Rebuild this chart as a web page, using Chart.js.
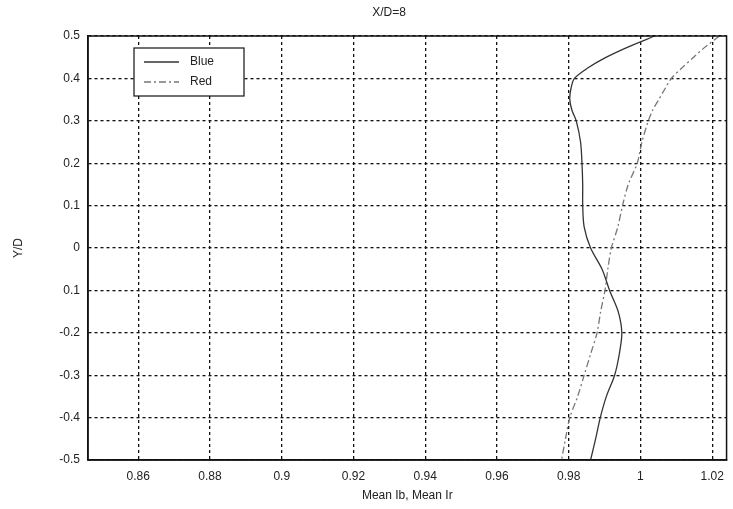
<!DOCTYPE html>
<html>
<head>
<meta charset="utf-8">
<script src="https://cdn.jsdelivr.net/npm/chart.js@4/dist/chart.umd.min.js"></script>
<style>
    html, body { margin: 0; padding: 0; background: #fff; }
    #wrap { width: 733px; height: 509px; }
</style>
</head>
<body>
<div id="wrap"><canvas id="myLineChart" width="733" height="509"></canvas></div>
<script>
// profile positions (Y/D), shared by both series
var yPositions = [0.5, 0.475, 0.45, 0.425, 0.4, 0.375, 0.35, 0.325, 0.3, 0.25, 0.2, 0.15, 0.1,
    0.05, 0, -0.05, -0.1, -0.15, -0.2, -0.25, -0.3, -0.35, -0.4, -0.45, -0.5];
var blueValues = [1.004, 0.9968, 0.9905, 0.9854, 0.9816, 0.9806, 0.9803, 0.9809, 0.9821, 0.9833, 0.9837,
    0.9839, 0.9839, 0.9843, 0.9861, 0.9893, 0.9914, 0.9938, 0.9948, 0.9941, 0.9928, 0.9905, 0.9888, 0.9875, 0.9861];
var redValues = [1.022, 1.0182, 1.0148, 1.0116, 1.0086, 1.0068, 1.0051, 1.0034, 1.0022, 1.0004, 0.9991,
    0.9966, 0.995, 0.9937, 0.9919, 0.9909, 0.9901, 0.9889, 0.9879, 0.9861, 0.9843, 0.9825, 0.9803, 0.9791, 0.978];

var xTickValues = [0.86, 0.88, 0.9, 0.92, 0.94, 0.96, 0.98, 1, 1.02];
var xTickLabels = ['0.86', '0.88', '0.9', '0.92', '0.94', '0.96', '0.98', '1', '1.02'];
var yTickValues = [0.5, 0.4, 0.3, 0.2, 0.1, 0, -0.1, -0.2, -0.3, -0.4, -0.5];
var yTickLabels = ['0.5', '0.4', '0.3', '0.2', '0.1', '0', '0.1', '-0.2', '-0.3', '-0.4', '-0.5'];

var chartTitle = 'X/D=8';
var seriesLabels = ['Blue', 'Red'];

var fontFamily = '"Liberation Sans", Arial, sans-serif';
var textColor = '#222222';

function toPoints(values) {
    return values.map(function(v, i) {
        return { x: v, y: yPositions[i] };
    });
}

function lookupLabel(values, labels, value) {
    for (var i = 0; i < values.length; i++) {
        if (Math.abs(values[i] - value) < 1e-9) {
            return labels[i];
        }
    }
    return '';
}

// frame round the plot, title and legend box
var framePlugin = {
    id: 'frame',
    afterDraw: function(chart) {
        var ctx = chart.ctx;
        var a = chart.chartArea;
        ctx.save();
        ctx.strokeStyle = '#111';
        ctx.lineWidth = 1.5;
        ctx.setLineDash([]);
        ctx.strokeRect(a.left, a.top, a.right - a.left, a.bottom - a.top);

        ctx.fillStyle = textColor;
        ctx.font = '12px ' + fontFamily;
        ctx.textAlign = 'center';
        ctx.textBaseline = 'middle';
        ctx.fillText(chartTitle, 389, 13);

        // legend
        var lx = 134, ly = 48, lw = 110, lh = 48;
        ctx.fillStyle = '#fff';
        ctx.fillRect(lx, ly, lw, lh);
        ctx.lineWidth = 1.2;
        ctx.strokeRect(lx, ly, lw, lh);
        chart.data.datasets.forEach(function(ds, i) {
            var y = ly + 14 + i * 20;
            ctx.strokeStyle = ds.borderColor;
            ctx.lineWidth = ds.borderWidth;
            ctx.setLineDash(ds.borderDash || []);
            ctx.beginPath();
            ctx.moveTo(lx + 10, y);
            ctx.lineTo(lx + 45, y);
            ctx.stroke();
            ctx.setLineDash([]);
            ctx.fillStyle = textColor;
            ctx.textAlign = 'left';
            ctx.fillText(ds.label, lx + 56, y);
        });
        ctx.restore();
    }
};

var gridOptions = {
    color: '#111',
    lineWidth: 1.3,
    drawTicks: false
};

var lineChartData = {
    datasets: [
        {
            label: seriesLabels[0],
            data: toPoints(blueValues),
            showLine: true,
            fill: false,
            borderColor: '#333333',
            borderWidth: 1.3,
            pointRadius: 0,
            tension: 0.3
        },
        {
            label: seriesLabels[1],
            data: toPoints(redValues),
            showLine: true,
            fill: false,
            borderColor: '#777777',
            borderWidth: 1.3,
            borderDash: [7, 3, 2, 3],
            pointRadius: 0,
            tension: 0.3
        }
    ]
};

var lineChartOptions = {
    responsive: false,
    animation: false,
    layout: {
        padding: { top: 36, right: 5, left: 0, bottom: 0 }
    },
    plugins: {
        legend: { display: false },
        tooltip: { enabled: false }
    },
    scales: {
        x: {
            type: 'linear',
            min: 0.846,
            max: 1.024,
            afterBuildTicks: function(scale) {
                scale.ticks = xTickValues.map(function(v) { return { value: v }; });
            },
            afterFit: function(scale) {
                scale.height = 49;
            },
            grid: Object.assign({ borderDash: [3, 3] }, gridOptions),
            border: { display: true, color: '#111', width: 1.5, dash: [3, 3] },
            ticks: {
                padding: 9,
                color: textColor,
                font: { family: fontFamily, size: 12 },
                maxRotation: 0,
                autoSkip: false,
                callback: function(value) {
                    return lookupLabel(xTickValues, xTickLabels, value);
                }
            },
            title: {
                display: true,
                text: 'Mean Ib, Mean Ir',
                color: textColor,
                font: { family: fontFamily, size: 12 },
                padding: { top: 0, bottom: 6 }
            }
        },
        y: {
            type: 'linear',
            min: -0.5,
            max: 0.5,
            afterBuildTicks: function(scale) {
                scale.ticks = yTickValues.slice().reverse().map(function(v) { return { value: v }; });
            },
            afterFit: function(scale) {
                scale.width = 88;
            },
            grid: Object.assign({ borderDash: [3, 3] }, gridOptions),
            border: { display: true, color: '#111', width: 1.5, dash: [3, 3] },
            ticks: {
                padding: 8,
                color: textColor,
                font: { family: fontFamily, size: 12 },
                autoSkip: false,
                callback: function(value) {
                    return lookupLabel(yTickValues, yTickLabels, value);
                }
            },
            title: {
                display: true,
                text: 'Y/D',
                color: textColor,
                font: { family: fontFamily, size: 12 },
                padding: { top: 11, bottom: 0 }
            }
        }
    }
};

var ctx = document.getElementById('myLineChart').getContext('2d');
new Chart(ctx, {
    type: 'scatter',
    data: lineChartData,
    options: lineChartOptions,
    plugins: [framePlugin]
});
</script>
</body>
</html>
